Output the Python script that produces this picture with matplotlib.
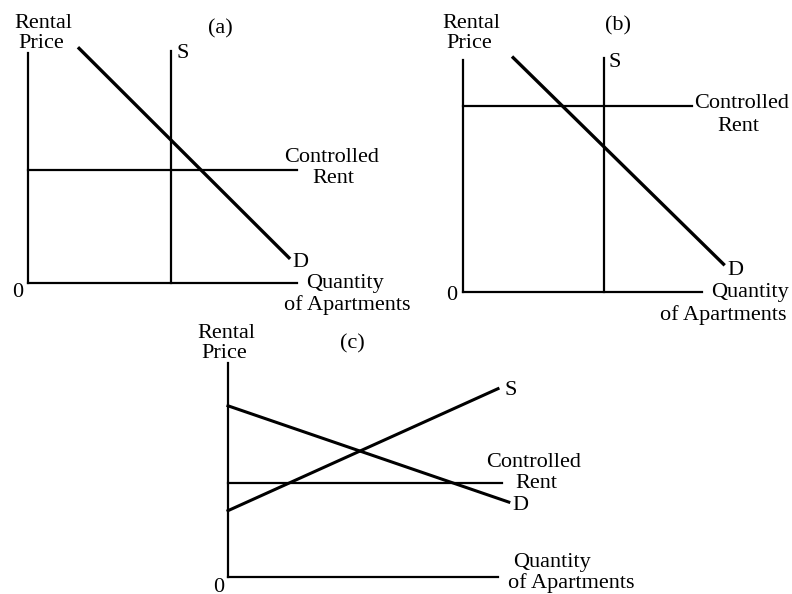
import matplotlib
matplotlib.use("Agg")
import matplotlib.pyplot as plt

plt.rcParams['font.family'] = ['Liberation Serif', 'DejaVu Serif']

W, H = 792, 594

# panel (a): vertical supply, rent below equilibrium
demand_a_q = [1.9, 9.7]
demand_a_p = [10.2, 1.1]
supply_a_q = 5.3
supply_a_top = 10.1
rent_a = 4.9
rent_a_end = 10.0

# panel (b): vertical supply, rent above equilibrium
demand_b_q = [2.1, 10.9]
demand_b_p = [10.1, 1.2]
supply_b_q = 5.9
supply_b_top = 10.1
rent_b = 8.0
rent_b_end = 9.6

# panel (c): upward sloping supply, rent below equilibrium
demand_c_q = [0.0, 10.4]
demand_c_p = [8.0, 3.5]
supply_c_q = [0.0, 10.0]
supply_c_p = [3.1, 8.8]
rent_c = 4.4
rent_c_end = 10.15


def make_axes(fig, left, top, right, bottom):
    # box given in pixels from the top-left corner
    ax = fig.add_axes([left / W, 1 - bottom / H, (right - left) / W, (bottom - top) / H])
    ax.set_xlim(0, 10)
    ax.set_ylim(0, 10)
    for s in ['top', 'right']:
        ax.spines[s].set_visible(False)
    for s in ['left', 'bottom']:
        ax.spines[s].set_linewidth(1.6)
    ax.set_xticks([])
    ax.set_yticks([])
    ax.patch.set_alpha(0)
    return ax


def label(fig, x, y, s, ha='left', size=16):
    fig.text(x / W, 1 - y / H, s, ha=ha, va='baseline', fontsize=size)


fig = plt.figure(figsize=(7.92, 5.94), dpi=100)

# (a)
ax = make_axes(fig, 28, 53, 297, 283)
ax.plot([supply_a_q, supply_a_q], [0, supply_a_top], color='black', lw=1.6, clip_on=False)
ax.plot([0, rent_a_end], [rent_a, rent_a], color='black', lw=1.6, clip_on=False)
ax.plot(demand_a_q, demand_a_p, color='black', lw=2.4, clip_on=False)

label(fig, 14, 28, 'Rental')
label(fig, 18, 48, 'Price')
label(fig, 220, 33, '(a)', ha='center')
label(fig, 176, 58, 'S')
label(fig, 292, 267, 'D')
label(fig, 332, 162, 'Controlled', ha='center')
label(fig, 333, 183, 'Rent', ha='center')
label(fig, 345, 288, 'Quantity', ha='center')
label(fig, 347, 310, 'of Apartments', ha='center')
label(fig, 18, 297, '0', ha='center')

# (b)
ax = make_axes(fig, 463, 60, 702, 292)
ax.plot([supply_b_q, supply_b_q], [0, supply_b_top], color='black', lw=1.6, clip_on=False)
ax.plot([0, rent_b_end], [rent_b, rent_b], color='black', lw=1.6, clip_on=False)
ax.plot(demand_b_q, demand_b_p, color='black', lw=2.4, clip_on=False)

label(fig, 442, 28, 'Rental')
label(fig, 446, 48, 'Price')
label(fig, 618, 30, '(b)', ha='center')
label(fig, 609, 67, 'S')
label(fig, 727, 275, 'D')
label(fig, 742, 108, 'Controlled', ha='center')
label(fig, 738, 131, 'Rent', ha='center')
label(fig, 750, 297, 'Quantity', ha='center')
label(fig, 723, 320, 'of Apartments', ha='center')
label(fig, 452, 300, '0', ha='center')

# (c)
ax = make_axes(fig, 228, 363, 498, 577)
ax.plot([0, rent_c_end], [rent_c, rent_c], color='black', lw=1.6, clip_on=False)
ax.plot(demand_c_q, demand_c_p, color='black', lw=2.2, clip_on=False)
ax.plot(supply_c_q, supply_c_p, color='black', lw=2.2, clip_on=False)

label(fig, 197, 338, 'Rental')
label(fig, 201, 358, 'Price')
label(fig, 352, 348, '(c)', ha='center')
label(fig, 505, 395, 'S')
label(fig, 512, 510, 'D')
label(fig, 534, 467, 'Controlled', ha='center')
label(fig, 536, 488, 'Rent', ha='center')
label(fig, 552, 567, 'Quantity', ha='center')
label(fig, 571, 588, 'of Apartments', ha='center')
label(fig, 219, 592, '0', ha='center')

fig.savefig('out.png', dpi=100)
